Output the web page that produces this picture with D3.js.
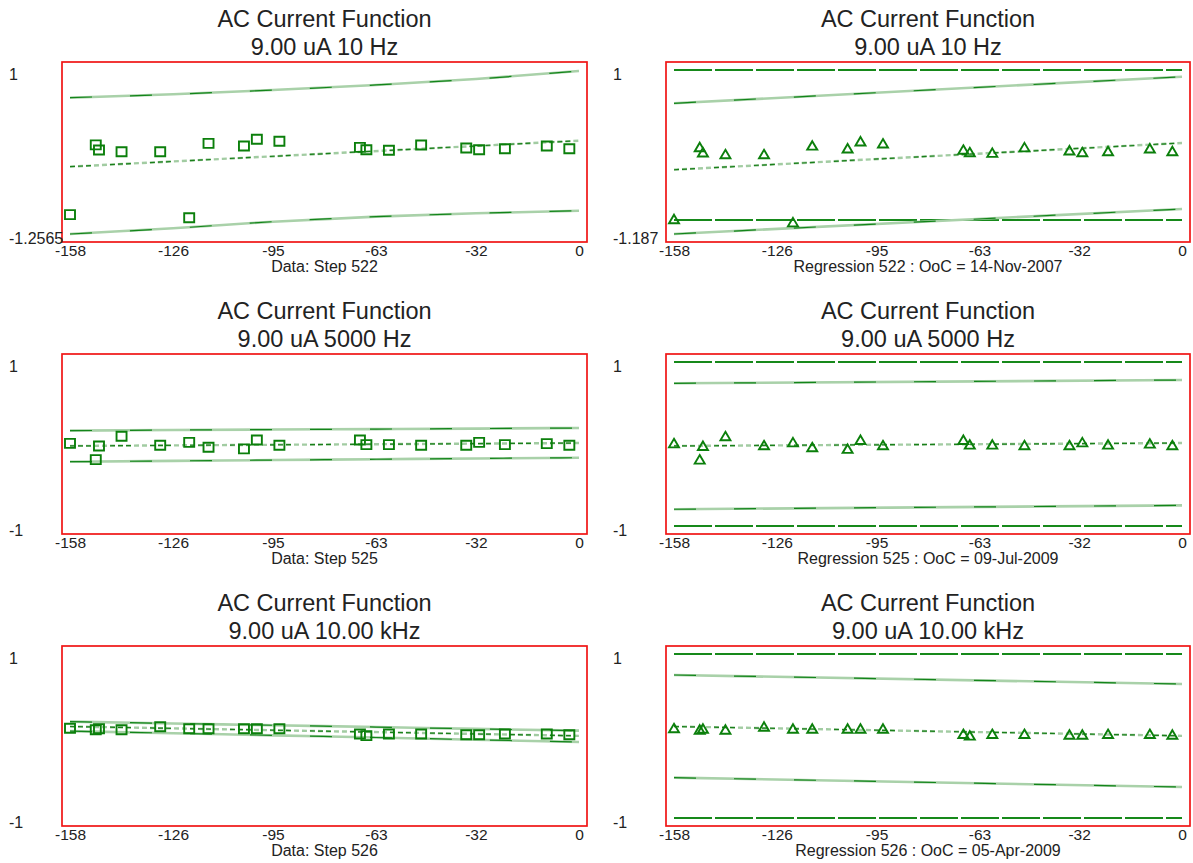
<!DOCTYPE html>
<html>
<head>
<meta charset="utf-8">
<script src="https://cdn.jsdelivr.net/npm/d3@7"></script>
<style>
body { margin: 0; background: #fff; }
text { font-family: "Liberation Sans", Arial, sans-serif; fill: #222; }
</style>
</head>
<body>
<svg id="chart" width="1193" height="863"></svg>
<script>
// days before the last step, shared by all three steps
var days = [-158, -150, -149, -142, -130, -121, -115, -104, -100, -93, -68, -66, -59, -49, -35, -31, -23, -10, -3];

var step522 = [-0.99, -0.03, -0.10, -0.124, -0.124, -1.032, -0.009, -0.046, 0.047, 0.019, -0.064, -0.097, -0.105, -0.032, -0.073, -0.097, -0.083, -0.046, -0.083];
var step525 = [0.008, -0.19, -0.024, 0.094, -0.016, 0.02, -0.04, -0.06, 0.049, -0.016, 0.049, -0.008, -0.008, -0.016, -0.016, 0.02, -0.008, 0.004, -0.016];
var step526 = [0.094, 0.077, 0.089, 0.077, 0.113, 0.089, 0.089, 0.089, 0.089, 0.089, 0.024, 0.004, 0.024, 0.024, 0.016, 0.016, 0.024, 0.024, 0.016];

// data bands (left column), read at the tick positions
var bandDays = [-158, -126, -95, -63, -32, 0];
var dataUpper522 = [0.619, 0.666, 0.725, 0.794, 0.876, 0.986];
var dataLower522 = [-1.2565, -1.178, -1.087, -1.018, -0.972, -0.936];
var dataUpper525 = [0.163, 0.17, 0.176, 0.182, 0.188, 0.195];
var dataLower525 = [-0.216, -0.206, -0.196, -0.186, -0.176, -0.167];
var dataUpper526 = [0.175, 0.153, 0.131, 0.109, 0.087, 0.065];
var dataLower526 = [0.06, 0.034, 0.008, -0.018, -0.046, -0.073];

// fitted line and regression bands, end points
var lineDays = [-158, 0];
var fit522 = [-0.33, 0.027];
var fit525 = [-0.024, 0.012];
var fit526 = [0.116, 0.002];
var regUpper522 = [0.556, 0.91];
var regLower522 = [-1.187, -0.853];
var regUpper525 = [0.74, 0.78];
var regLower525 = [-0.796, -0.748];
var regUpper526 = [0.744, 0.634];
var regLower526 = [-0.508, -0.622];
var limits = [1, -1];

var xTicks = [-158, -126, -95, -63, -32, 0];
var yMinData = [-1.2565, -1, -1];
var yMinReg = [-1.187, -1, -1];

var mainTitle = "AC Current Function";
var subTitles = ["9.00 uA 10 Hz", "9.00 uA 5000 Hz", "9.00 uA 10.00 kHz"];
var dataLabels = ["Data: Step 522", "Data: Step 525", "Data: Step 526"];
var regLabels = ["Regression 522 : OoC = 14-Nov-2007", "Regression 525 : OoC = 09-Jul-2009", "Regression 526 : OoC = 05-Apr-2009"];

var rows = [
  {pts: step522, fit: fit522, du: dataUpper522, dl: dataLower522, ru: regUpper522, rl: regLower522},
  {pts: step525, fit: fit525, du: dataUpper525, dl: dataLower525, ru: regUpper525, rl: regLower525},
  {pts: step526, fit: fit526, du: dataUpper526, dl: dataLower526, ru: regUpper526, rl: regLower526}
];

var svg = d3.select("#chart");
var rowTops = [62, 354, 646];
var boxH = 180;
var cols = [{left: 62, right: 587}, {left: 666, right: 1190}];

var dark = "#0b7f0b";

function bandPath(g, xs, ys, x, y, curve) {
  var line = d3.line()
    .x(function(d, i) { return x(xs[i]); })
    .y(function(d) { return y(d); })
    .curve(curve);
  g.append("path").attr("d", line(ys))
    .attr("fill", "none").attr("stroke", "#a9d1a9").attr("stroke-width", 2.6);
  g.append("path").attr("d", line(ys))
    .attr("fill", "none").attr("stroke", "#13851a").attr("stroke-width", 1.2)
    .attr("stroke-dasharray", "22,38");
}

function fitPath(g, xs, ys, x, y) {
  var line = d3.line()
    .x(function(d, i) { return x(xs[i]); })
    .y(function(d) { return y(d); });
  g.append("path").attr("d", line(ys))
    .attr("fill", "none").attr("stroke", "#a2cca2").attr("stroke-width", 2.4)
    .attr("stroke-dasharray", "5,3");
  g.append("path").attr("d", line(ys))
    .attr("fill", "none").attr("stroke", "#1a7f1a").attr("stroke-width", 1.2)
    .attr("stroke-dasharray", "5,3,5,3,5,19");
}

function drawPanel(r, c) {
  var row = rows[r];
  var col = cols[c];
  var top = rowTops[r];
  var yMin = c === 0 ? yMinData[r] : yMinReg[r];

  var x = d3.scaleLinear().domain([-158, 0]).range([col.left + 8, col.right - 8]);
  var y = d3.scaleLinear().domain([yMin, 1]).range([top + boxH - 8, top + 8]);

  var g = svg.append("g");
  var cx = (col.left + col.right) / 2;

  // titles
  g.append("text").attr("x", cx).attr("y", top - 35)
    .attr("text-anchor", "middle").style("font-size", "23.5px").text(mainTitle);
  g.append("text").attr("x", cx).attr("y", top - 7)
    .attr("text-anchor", "middle").style("font-size", "23.5px").text(subTitles[r]);

  // box
  g.append("rect")
    .attr("x", col.left).attr("y", top)
    .attr("width", col.right - col.left).attr("height", boxH)
    .attr("fill", "#fff").attr("stroke", "#f01515").attr("stroke-width", 1.7);

  if (c === 0) {
    bandPath(g, bandDays, row.du, x, y, d3.curveMonotoneX);
    bandPath(g, bandDays, row.dl, x, y, d3.curveMonotoneX);
  } else {
    limits.forEach(function(v) {
      g.append("line")
        .attr("x1", x(-158)).attr("x2", x(0))
        .attr("y1", y(v)).attr("y2", y(v))
        .attr("stroke", "#16891a").attr("stroke-width", 2)
        .attr("stroke-dasharray", "38,3");
    });
    bandPath(g, lineDays, row.ru, x, y, d3.curveLinear);
    bandPath(g, lineDays, row.rl, x, y, d3.curveLinear);
  }
  fitPath(g, lineDays, row.fit, x, y);

  // points
  var pts = g.append("g").selectAll("path")
    .data(row.pts)
    .enter().append("path")
    .attr("transform", function(d, i) { return "translate(" + x(days[i]) + "," + y(d) + ")"; })
    .attr("fill", "none")
    .attr("stroke", dark)
    .attr("stroke-width", 1.9);
  if (c === 0) {
    pts.attr("d", "M-5,-4.5L5,-4.5L5,4.5L-5,4.5Z");
  } else {
    pts.attr("d", "M0,-4.5L5,4L-5,4Z");
  }

  // x axis labels only
  var xAxis = d3.axisBottom(x)
    .tickValues(xTicks)
    .tickFormat(function(d) { return String(d); })
    .tickSize(0)
    .tickPadding(3);
  var ax = g.append("g")
    .attr("transform", "translate(0," + (top + boxH) + ")")
    .call(xAxis);
  ax.select(".domain").remove();
  ax.selectAll("text")
    .style("font-size", "15.5px")
    .style("font-family", "\"Liberation Sans\", Arial, sans-serif")
    .attr("fill", "#222");

  // y labels, left aligned
  [1, yMin].forEach(function(v) {
    g.append("text")
      .attr("x", col.left - 53)
      .attr("y", y(v) + 10)
      .style("font-size", "16px")
      .text(String(v));
  });

  g.append("text").attr("x", cx).attr("y", top + boxH + 30)
    .attr("text-anchor", "middle").style("font-size", "16px")
    .text(c === 0 ? dataLabels[r] : regLabels[r]);
}

for (var r = 0; r < 3; r++) {
  drawPanel(r, 0);
  drawPanel(r, 1);
}
</script>
</body>
</html>
